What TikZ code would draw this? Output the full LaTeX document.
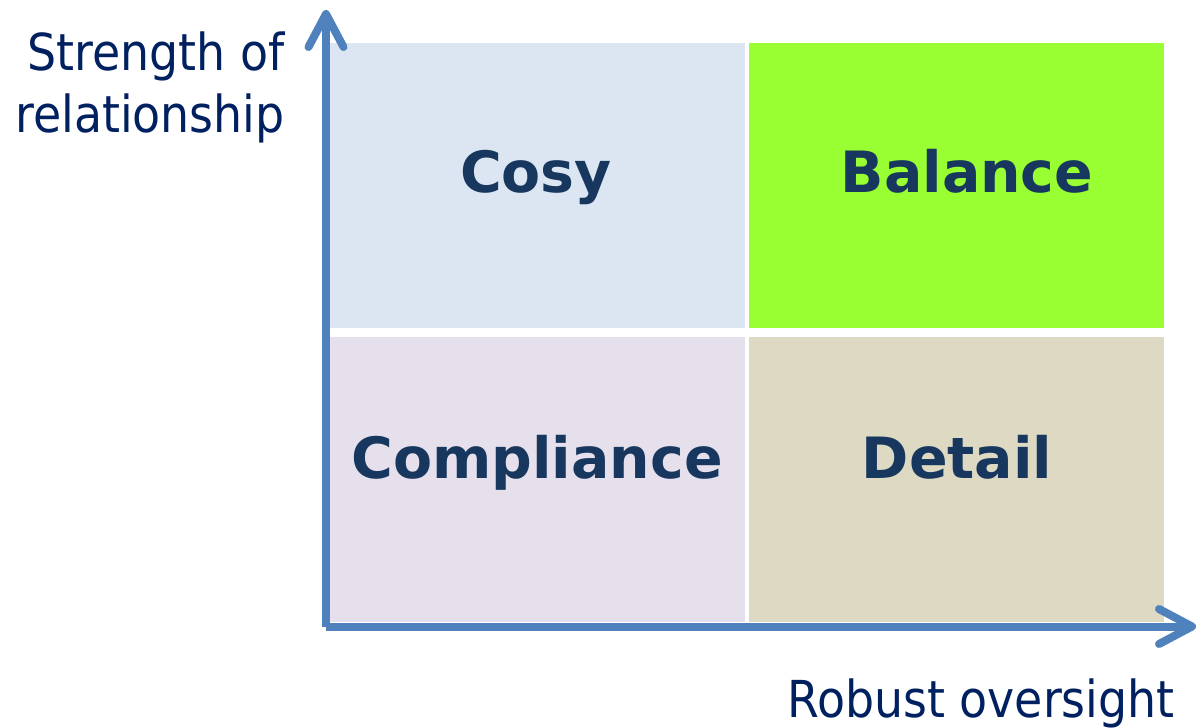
\documentclass[tikz,border=0pt]{standalone}
\usepackage{fontspec}
\setmainfont{DejaVu Sans}
\newfontfamily\condfont{DejaVu Sans Condensed}
\usetikzlibrary{arrows.meta}
\definecolor{axisblue}{HTML}{4F81BD}
\definecolor{labelnavy}{HTML}{002060}
\definecolor{quadnavy}{HTML}{17375E}
\definecolor{cosyfill}{HTML}{DCE6F2}
\definecolor{balancefill}{HTML}{99FF33}
\definecolor{compliancefill}{HTML}{E6E0EC}
\definecolor{detailfill}{HTML}{DDD9C3}
\begin{document}
\begin{tikzpicture}[x=0.02cm,y=-0.02cm]
\tikzstyle{every node}+=[inner sep=0pt]
\tikzstyle{quad}=[rectangle,minimum width=8.32cm,minimum height=5.72cm]
\tikzstyle{quadtext}=[anchor=base,text=quadnavy,font=\fontsize{32.4}{38}\selectfont\bfseries]
\tikzstyle{axislabel}=[anchor=base east,text=labelnavy,font=\condfont\fontsize{29}{35}\selectfont]
\tikzstyle{axis}=[axisblue,line width=0.16cm,-{Straight Barb[length=0.66cm,width=0.7cm,round]}]
\useasboundingbox (0,0) rectangle (1200,727);
% the four quadrants
\node [quad,fill=cosyfill] (cosy) at (537.5,185.5) {};
\node [quad,fill=balancefill] (balance) at (956.5,185.5) {};
\node [quad,fill=compliancefill] (compliance) at (537.5,479.5) {};
\node [quad,fill=detailfill] (detail) at (956.5,479.5) {};
\node [quadtext] (cosytext) at (536,192) {Cosy};
\node [quadtext] (balancetext) at (967,192) {Balance};
\node [quadtext] (compliancetext) at (537,478) {Compliance};
\node [quadtext] (detailtext) at (957,478) {Detail};
% axes
\coordinate (origin) at (326,626.5);
\coordinate (ytip) at (326,10);
\coordinate (xtip) at (1196,626.5);
\draw [axis] (origin) -- (ytip);
\draw [axis] (origin) -- (xtip);
\node [axislabel] (ylabtop) at (285,70) {Strength of};
\node [axislabel] (ylabbot) at (285,132) {relationship};
\node [axislabel] (xlab) at (1175,717) {Robust oversight};
\end{tikzpicture}
\end{document}
